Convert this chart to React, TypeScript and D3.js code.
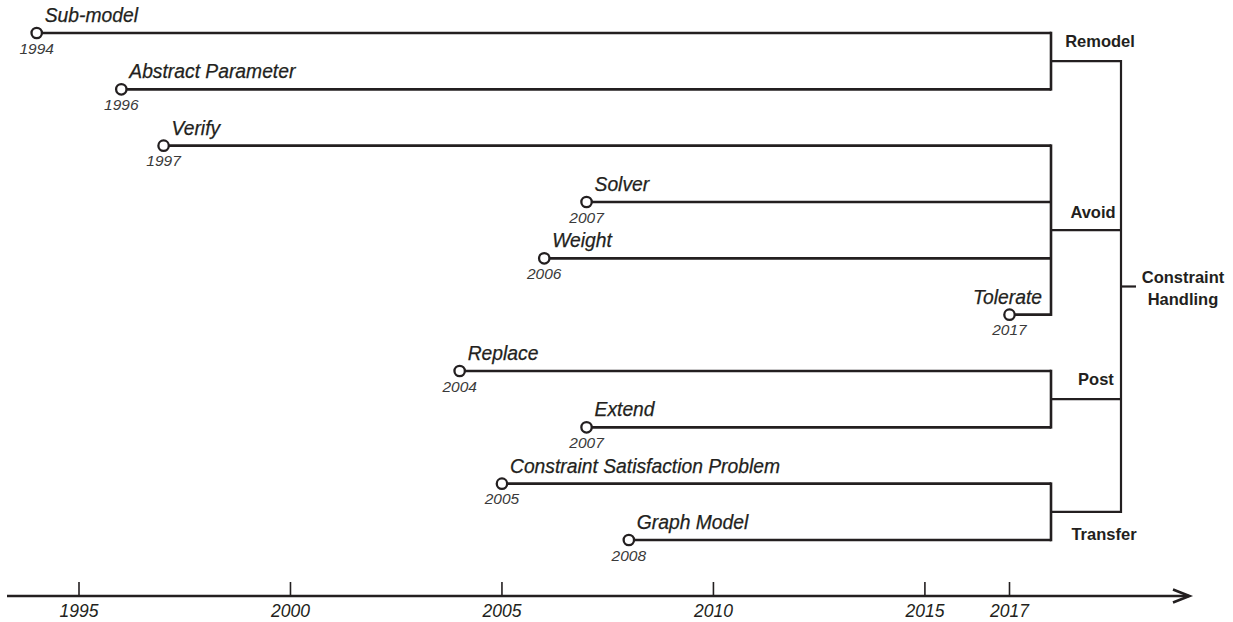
import React from "react";
import * as d3 from "d3";

const methods = ["Sub-model", "Abstract Parameter", "Verify", "Solver", "Weight", "Tolerate", "Replace", "Extend", "Constraint Satisfaction Problem", "Graph Model"];
const years = [1994, 1996, 1997, 2007, 2006, 2017, 2004, 2007, 2005, 2008];
const groupNames = ["Remodel", "Avoid", "Post", "Transfer"];
const groupStart = [0, 2, 6, 8];
const groupEnd = [1, 5, 7, 9];
const rootLabel = ["Constraint", "Handling"];
const axisTicks = [1995, 2000, 2005, 2010, 2015, 2017];

const W = 1233;
const H = 622;
const INK = "#231f20";

export default function App() {
  const x = d3.scaleLinear().domain([1995, 2017]).range([79, 1009.5]);
  const y = d3.scaleLinear().domain([0, methods.length - 1]).range([33, 540]);
  const bracketX = 1051;
  const rootX = 1121;
  const axisY = 596;
  const mids = groupStart.map((s, i) => (y(s) + y(groupEnd[i])) / 2);
  const rootMid = (mids[0] + mids[mids.length - 1]) / 2;
  const groupLabelPos = [
    { cx: 1100, dy: -14 },
    { cx: 1093, dy: -12 },
    { cx: 1096, dy: -14 },
    { cx: 1104, dy: 28 },
  ];
  const nameFont = "'Liberation Sans', Arial, Helvetica, sans-serif";
  const approxW = (s: string) => s.length * 9.8;

  return (
    <svg width={W} height={H} style={{ position: "absolute", left: 0, top: 0, background: "#fff" }}>
      {methods.map((m, i) => {
        const cx = x(years[i]);
        const cy = y(i);
        const overflow = cx + 8 + approxW(m) > bracketX - 4;
        return (
          <g key={m}>
            <line x1={cx} x2={bracketX} y1={cy} y2={cy} stroke={INK} strokeWidth={2.6} />
            <circle cx={cx} cy={cy} r={5.2} fill="#fff" stroke={INK} strokeWidth={2.3} />
            <text
              x={overflow ? bracketX - 9 : cx + 8}
              y={cy - 11}
              textAnchor={overflow ? "end" : "start"}
              fontFamily={nameFont}
              fontStyle="italic"
              fontSize={19.3}
              fill={INK}
              stroke={INK}
              strokeWidth={0.25}
            >
              {m}
            </text>
            <text
              x={cx}
              y={cy + 20.5}
              textAnchor="middle"
              fontFamily={nameFont}
              fontStyle="italic"
              fontSize={15.5}
              fill="#3a3a3a"
            >
              {years[i]}
            </text>
          </g>
        );
      })}
      {groupNames.map((g, i) => (
        <g key={g}>
          <line x1={bracketX} x2={bracketX} y1={y(groupStart[i]) - 1.3} y2={y(groupEnd[i]) + 1.3} stroke={INK} strokeWidth={2.6} />
          <line x1={bracketX} x2={rootX} y1={mids[i]} y2={mids[i]} stroke={INK} strokeWidth={2.2} />
          <text
            x={groupLabelPos[i].cx}
            y={mids[i] + groupLabelPos[i].dy}
            textAnchor="middle"
            fontFamily={nameFont}
            fontWeight="bold"
            fontSize={16.5}
            fill={INK}
          >
            {g}
          </text>
        </g>
      ))}
      <line x1={rootX} x2={rootX} y1={mids[0] - 1.1} y2={mids[mids.length - 1] + 1.1} stroke={INK} strokeWidth={2.2} />
      <line x1={rootX} x2={rootX + 15} y1={rootMid} y2={rootMid} stroke={INK} strokeWidth={2.2} />
      {rootLabel.map((t, i) => (
        <text
          key={t}
          x={1183}
          y={283 + i * 22}
          textAnchor="middle"
          fontFamily={nameFont}
          fontWeight="bold"
          fontSize={16.5}
          fill={INK}
        >
          {t}
        </text>
      ))}
      <line x1={7} x2={1189} y1={axisY} y2={axisY} stroke={INK} strokeWidth={2.6} />
      <polyline points={`1173,589.5 1189.5,${axisY} 1173,602.5`} fill="none" stroke={INK} strokeWidth={2.6} />
      {axisTicks.map((t) => (
        <g key={t}>
          <line x1={x(t)} x2={x(t)} y1={axisY - 14} y2={axisY} stroke={INK} strokeWidth={1.6} />
          <text x={x(t)} y={617} textAnchor="middle" fontFamily={nameFont} fontStyle="italic" fontSize={17.5} fill={INK}>
            {t}
          </text>
        </g>
      ))}
    </svg>
  );
}
